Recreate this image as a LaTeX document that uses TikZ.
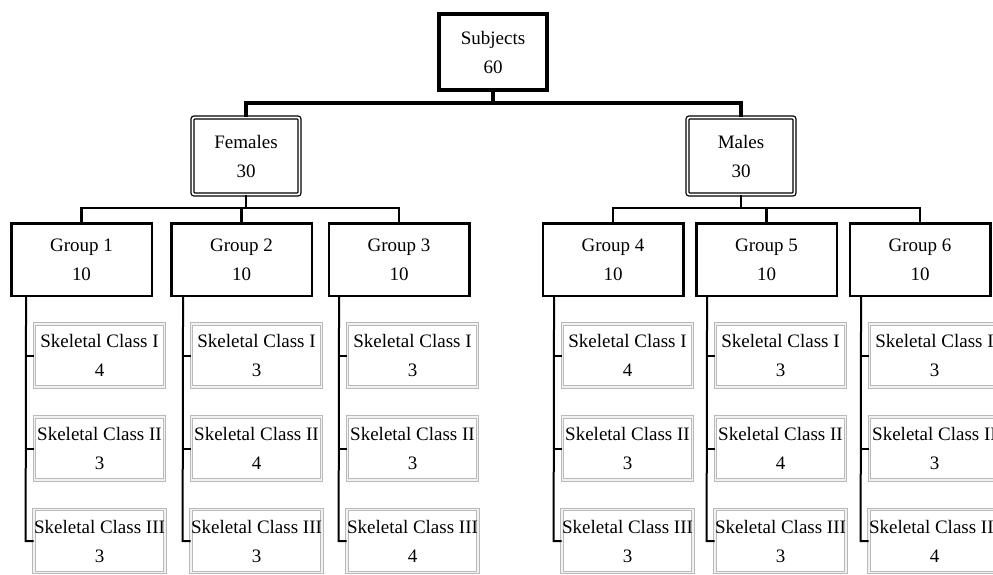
\documentclass[tikz,border=0pt]{standalone}
\usepackage{fontspec}
\setmainfont{Liberation Serif}
\usetikzlibrary{shadows}
\begin{document}
\begin{tikzpicture}[x=1pt,y=-1pt,
  lbl/.style={font=\fontsize{19}{29}\selectfont, align=center, inner sep=0pt, fill=white},
  topbox/.style={lbl, draw, line width=4pt, minimum width=108pt, minimum height=76pt},
  sexbox/.style={lbl, draw, line width=1.3pt, double=white, double distance=1.8pt, rounded corners=2pt, minimum width=107pt, minimum height=77pt},
  grpbox/.style={lbl, draw, line width=2.5pt, minimum width=140.5pt, minimum height=72.5pt, drop shadow={opacity=0.25, shadow xshift=1.5pt, shadow yshift=-1.5pt}},
  skbox/.style={lbl, draw=gray!55, line width=0.9pt, double=gray!10, double distance=1.6pt, minimum width=130pt, minimum height=63pt},
  topline/.style={line width=4.5pt},
  midline/.style={line width=2.5pt},
  vline/.style={line width=2pt}
]
\useasboundingbox (0,0) rectangle (993,574);
\clip (0,0) rectangle (993,574);
\fill[white] (0,0) rectangle (993,574);

\coordinate (b1) at (0,103);
\coordinate (b2) at (0,208);

% connectors (drawn first, under boxes)
\node[topbox] (S) at (493,52) {Subjects\\60};
\node[sexbox] (F) at (246,156) {Females\\30};
\node[sexbox] (M) at (741,156) {Males\\30};

\node[grpbox] (G1) at (81.5,259.5) {Group 1\\10};
\node[grpbox] (G2) at (241.5,259.5) {Group 2\\10};
\node[grpbox] (G3) at (399,259.5) {Group 3\\10};
\node[grpbox] (G4) at (613,259.5) {Group 4\\10};
\node[grpbox] (G5) at (766.5,259.5) {Group 5\\10};
\node[grpbox] (G6) at (920,259.5) {Group 6\\10};

\begin{scope}[on background layer/.style={}]
\end{scope}

% skeletal boxes
\foreach \g/\x/\a/\b/\c in {1/99.5/4/3/3, 2/256.5/3/4/3, 3/412.5/3/3/4, 4/627.5/4/3/3, 5/780.5/3/4/3, 6/934.5/3/3/4}{
  \node[skbox] (K\g1) at (\x,355.5) {Skeletal Class I\\\a};
  \node[skbox] (K\g2) at (\x,448.5) {Skeletal Class II\\\b};
  \node[skbox] (K\g3) at (\x,541) {Skeletal Class III\\\c};
}

% top level
\draw[topline] (S.south) -- (S.south |- b1);
\draw[topline] (F.north) -- (F.north |- b1) -- (M.north |- b1) -- (M.north);

% second level
\draw[midline] (F.south) -- (F.south |- b2);
\draw[midline] (M.south) -- (M.south |- b2);
\draw[midline] (G1.north) -- (G1.north |- b2) -- (G3.north |- b2) -- (G3.north);
\draw[midline] (G2.north) -- (G2.north |- b2);
\draw[midline] (G4.north) -- (G4.north |- b2) -- (G6.north |- b2) -- (G6.north);
\draw[midline] (G5.north) -- (G5.north |- b2);

% group to skeletal
\foreach \g in {1,...,6}{
  \draw[vline] ([xshift=-8pt]K\g1.west |- G\g.south) -- ([xshift=-8pt]K\g3.west) -- (K\g3.west);
  \draw[vline] ([xshift=-8pt]K\g1.west) -- (K\g1.west);
  \draw[vline] ([xshift=-8pt]K\g2.west) -- (K\g2.west);
}
\end{tikzpicture}
\end{document}
